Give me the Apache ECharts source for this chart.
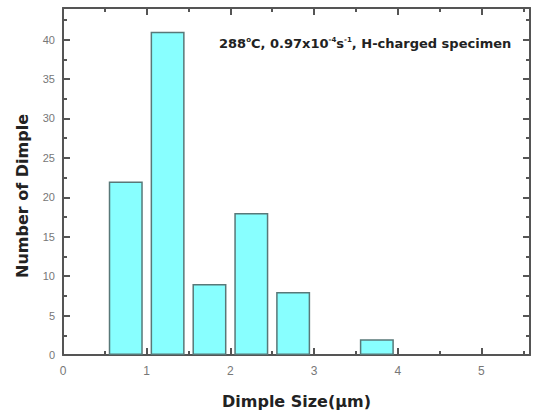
<!DOCTYPE html>
<html>
<head>
<meta charset="utf-8">
<script src="https://cdn.jsdelivr.net/npm/echarts@6/dist/echarts.min.js"></script>
<style>
  html, body { margin: 0; padding: 0; background: #fff; }
  #chart { width: 533px; height: 418px; }
</style>
</head>
<body>
<div id="chart"></div>
<script>
// bin centres (um) and dimple counts
var binCenters = [0.75, 1.25, 1.75, 2.25, 2.75, 3.75];
var counts = [22, 41, 9, 18, 8, 2];

var axisColor = '#555';
var labelColor = '#777';
var boldFont = 'DejaVu Sans';

var chart = echarts.init(document.getElementById('chart'), null, { renderer: 'svg' });

var frameAxis = {
  axisLine: { show: true, onZero: false, lineStyle: { color: axisColor, width: 2 } },
  axisTick: { show: true, inside: true, length: 7, lineStyle: { color: axisColor, width: 2 } },
  minorTick: { show: true, splitNumber: 2, length: 4, lineStyle: { color: axisColor, width: 2 } },
  splitLine: { show: false }
};

chart.setOption({
  animation: false,
  backgroundColor: '#fff',
  title: {
    left: 214,
    top: 31,
    text: '{b|288}{s|o}{b|C, 0.97x10}{s|-4}{b|s}{s|-1}{b|, H-charged specimen}',
    textStyle: {
      rich: {
        b: { fontFamily: boldFont, fontWeight: 'bold', fontSize: 13, color: '#222' },
        s: { fontFamily: boldFont, fontWeight: 'bold', fontSize: 7, color: '#222', verticalAlign: 'top', padding: [0, 0, 8, 0] }
      }
    }
  },
  graphic: [{
    type: 'text',
    x: 22,
    y: 196,
    rotation: Math.PI / 2,
    style: {
      text: 'Number of Dimple',
      fontFamily: boldFont,
      fontWeight: 'bold',
      fontSize: 16,
      fill: '#222',
      align: 'center',
      verticalAlign: 'middle'
    }
  }],
  grid: { left: 63, right: 1, top: 8, bottom: 63 },
  xAxis: [
    Object.assign({}, frameAxis, {
      type: 'value',
      position: 'bottom',
      min: 0,
      max: 5.58,
      interval: 1,
      name: 'Dimple Size(\u03bcm)',
      nameLocation: 'middle',
      nameGap: 38,
      nameTextStyle: { fontFamily: boldFont, fontWeight: 'bold', fontSize: 16, color: '#222' },
      axisLabel: { color: labelColor, fontSize: 12, fontFamily: 'Liberation Sans', margin: 10,
        formatter: function (v) { return Number.isInteger(v) ? String(v) : ''; } }
    }),
    Object.assign({}, frameAxis, {
      type: 'value',
      position: 'top',
      min: 0,
      max: 5.58,
      interval: 1,
      axisLabel: { show: false }
    })
  ],
  yAxis: [
    Object.assign({}, frameAxis, {
      type: 'value',
      position: 'left',
      min: 0,
      max: 44,
      interval: 5,
      axisLabel: { color: labelColor, fontSize: 11, fontFamily: 'Liberation Sans', margin: 8,
        formatter: function (v) { return v % 5 === 0 ? String(v) : ''; } }
    }),
    Object.assign({}, frameAxis, {
      type: 'value',
      position: 'right',
      min: 0,
      max: 44,
      interval: 5,
      axisLabel: { show: false }
    })
  ],
  series: [{
    type: 'bar',
    xAxisIndex: 0,
    yAxisIndex: 0,
    barWidth: 34,
    data: binCenters.map(function (x, i) { return [x, counts[i]]; }),
    itemStyle: { color: '#88ffff', borderColor: '#587878', borderWidth: 1.5 }
  }]
});
</script>
</body>
</html>
